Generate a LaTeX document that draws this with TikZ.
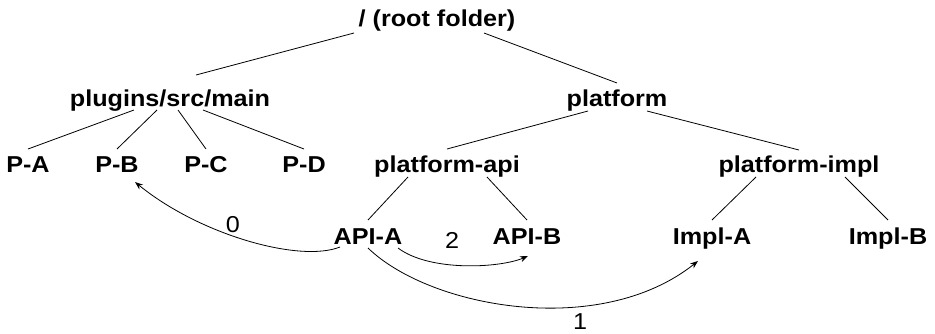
\documentclass[tikz,border=0pt]{standalone}
\usepackage{fontspec}
\setmainfont{Liberation Sans}[FakeStretch=1.095]
\usetikzlibrary{calc,arrows.meta}
\begin{document}
\begin{tikzpicture}[x=1pt,y=-1pt,
  dir/.style={font=\fontsize{23}{27}\selectfont\bfseries, anchor=base, inner sep=0pt},
  num/.style={font=\fontsize{23}{27}\selectfont, inner sep=0pt},
  edge/.style={line width=0.8pt},
  link/.style={line width=0.8pt, -{Stealth[length=8pt,width=6pt]}}]
\useasboundingbox (0,0) rectangle (935,333);
% nodes
\node[dir] (root) at (437,26) {/ (root folder)};
\node[dir] (plugins) at (170,106) {plugins/src/main};
\node[dir] (platform) at (617,106) {platform};
\node[dir] (PA) at (28,172) {P-A};
\node[dir] (PB) at (117,172) {P-B};
\node[dir] (PC) at (206,172) {P-C};
\node[dir] (PD) at (304,172) {P-D};
\node[dir] (api) at (447,172) {platform-api};
\node[dir] (impl) at (799,172) {platform-impl};
\node[dir] (APIA) at (368,244) {API-A};
\node[dir] (APIB) at (527,244) {API-B};
\node[dir] (ImplA) at (712,244) {Impl-A};
\node[dir] (ImplB) at (888,244) {Impl-B};
% tree edges
\draw[edge] ($(root.base)+(-83,7)$) -- ($(plugins.base)+(26,-31)$);
\draw[edge] ($(root.base)+(47,7)$) -- ($(platform.base)+(0,-23)$);
\draw[edge] ($(plugins.base)+(-36,4)$) -- ($(PA.base)+(0,-23)$);
\draw[edge] ($(plugins.base)+(-13,4)$) -- ($(PB.base)+(0,-23)$);
\draw[edge] ($(plugins.base)+(8,4)$) -- ($(PC.base)+(0,-23)$);
\draw[edge] ($(plugins.base)+(33,4)$) -- ($(PD.base)+(0,-23)$);
\draw[edge] ($(platform.base)+(-29,5)$) -- ($(api.base)+(0,-23)$);
\draw[edge] ($(platform.base)+(30,5)$) -- ($(impl.base)+(0,-22)$);
\draw[edge] ($(api.base)+(-39,5)$) -- ($(APIA.base)+(0,-24)$);
\draw[edge] ($(api.base)+(40,5)$) -- ($(APIB.base)+(0,-24)$);
\draw[edge] ($(impl.base)+(-43,5)$) -- ($(ImplA.base)+(0,-24)$);
\draw[edge] ($(impl.base)+(46,5)$) -- ($(ImplB.base)+(0,-24)$);
% dependency arrows
\draw[link] ($(APIA.base)+(-28,3)$) .. controls +(-40,16) and +(65,53) .. ($(PB.base)+(18,10)$);
\draw[link] ($(APIA.base)+(30,4)$) .. controls +(32,24) and +(-28,12) .. ($(APIB.base)+(1,12)$);
\draw[link] ($(APIA.base)+(0,4)$) .. controls +(62,60) and +(-98,78) .. ($(ImplA.base)+(-14,17)$);
% labels
\node[num] (l0) at (233,225) {0};
\node[num] (l2) at (452,240) {2};
\node[num] (l1) at (580,322) {1};
\end{tikzpicture}
\end{document}
